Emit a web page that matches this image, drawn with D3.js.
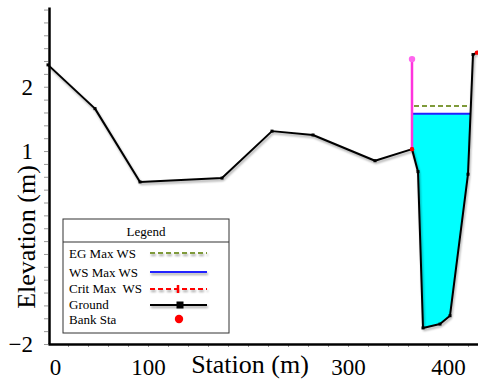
<!DOCTYPE html>
<html>
<head>
<meta charset="utf-8">
<script src="https://cdnjs.cloudflare.com/ajax/libs/d3/7.8.5/d3.min.js"></script>
<style>
  body { margin: 0; background: #fff; }
  text { font-family: "Liberation Serif", "Times New Roman", serif; fill: #000; }
</style>
</head>
<body>
<div id="chart"></div>
<script>
// cross section data (station m, elevation m)
var stations = [0, 47, 92, 174, 224, 265, 327, 364, 370, 375, 392, 402, 420, 425, 429];
var elevations = [2.34, 1.66, 0.52, 0.58, 1.31, 1.25, 0.85, 1.03, 0.68, -1.75, -1.69, -1.56, 0.64, 2.50, 2.53];
var bankStations = [364, 429];
var wsElev = 1.58;       // WS Max WS
var egElev = 1.70;       // EG Max WS
var leveeStation = 364;  // magenta marker at left bank
var leveeTop = 2.43;

var xTickValues = [0, 100, 300, 400];
var yTickValues = [2, 1, -2];
var legendNames = ["EG Max WS", "WS Max WS", "Crit Max  WS", "Ground", "Bank Sta"];

var width = 478, height = 381;

var svg = d3.select("#chart").append("svg")
    .attr("width", width)
    .attr("height", height);

// drop shadow, in user space so flat lines keep a filter region
var defs = svg.append("defs");
var f = defs.append("filter").attr("id", "shadow")
    .attr("filterUnits", "userSpaceOnUse")
    .attr("x", 0).attr("y", 0).attr("width", width).attr("height", height);
f.append("feDropShadow")
    .attr("dx", 1).attr("dy", 2).attr("stdDeviation", 1.2)
    .attr("flood-color", "#000").attr("flood-opacity", 0.35);

var x = d3.scaleLinear().domain([0, 430]).range([48, 478]);
var y = d3.scaleLinear().domain([-2, 3.24]).range([344, 7]);

var ground = stations.map(function (s, i) { return { s: s, z: elevations[i] }; });

// find where ground rises above a level to the right of the left bank
function rightCrossing(level) {
    var i, a, b;
    for (i = 1; i < ground.length; i += 1) {
        a = ground[i - 1]; b = ground[i];
        if (a.s >= leveeStation && a.z <= level && b.z > level) {
            return a.s + (b.s - a.s) * (level - a.z) / (b.z - a.z);
        }
    }
    return ground[ground.length - 1].s;
}

var wsRight = rightCrossing(wsElev);
var egRight = rightCrossing(egElev);

// water polygon
var water = [{ s: leveeStation, z: wsElev }];
ground.forEach(function (d) {
    if (d.s >= leveeStation && d.s < wsRight) { water.push(d); }
});
water.push({ s: wsRight, z: wsElev });

var line = d3.line().x(function (d) { return x(d.s); }).y(function (d) { return y(d.z); });

svg.append("path")
    .datum(water)
    .attr("d", line.curve(d3.curveLinearClosed))
    .attr("fill", "#00ffff")
    .attr("stroke", "none");
line.curve(d3.curveLinear);

// EG and WS lines
svg.append("line")
    .attr("x1", x(leveeStation + 2)).attr("x2", x(egRight))
    .attr("y1", y(egElev)).attr("y2", y(egElev))
    .attr("stroke", "#7f9a3a").attr("stroke-width", 2)
    .attr("stroke-dasharray", "5,3");
svg.append("line")
    .attr("x1", x(leveeStation)).attr("x2", x(wsRight))
    .attr("y1", y(wsElev)).attr("y2", y(wsElev))
    .attr("stroke", "#2020ff").attr("stroke-width", 2);

// magenta marker
svg.append("line")
    .attr("x1", x(leveeStation)).attr("x2", x(leveeStation))
    .attr("y1", y(elevations[stations.indexOf(leveeStation)])).attr("y2", y(leveeTop))
    .attr("stroke", "#ff33dd").attr("stroke-width", 2.5);
svg.append("circle")
    .attr("cx", x(leveeStation)).attr("cy", y(leveeTop)).attr("r", 3.2)
    .attr("fill", "#ff66ee");

// ground
svg.append("path")
    .datum(ground)
    .attr("d", line)
    .attr("fill", "none")
    .attr("stroke", "#000")
    .attr("stroke-width", 2)
    .attr("stroke-linejoin", "round")
    .attr("filter", "url(#shadow)");
svg.selectAll("rect.vtx")
    .data(ground)
    .enter().append("rect")
    .attr("class", "vtx")
    .attr("x", function (d) { return x(d.s) - 1.5; })
    .attr("y", function (d) { return y(d.z) - 1.5; })
    .attr("width", 3).attr("height", 3)
    .attr("fill", "#000");

// bank stations
svg.selectAll("circle.bank")
    .data(bankStations)
    .enter().append("circle")
    .attr("class", "bank")
    .attr("cx", function (s) { return x(s); })
    .attr("cy", function (s) { return y(elevations[stations.indexOf(s)]); })
    .attr("r", 2.2)
    .attr("fill", "#ff0000");

// minor ticks
svg.append("g")
    .attr("transform", "translate(48,0)")
    .call(d3.axisLeft(y).tickValues(d3.range(-2, 3.21, 0.2)).tickSize(4).tickFormat(""))
    .call(function (g) {
        g.select(".domain").remove();
        g.selectAll("line").attr("stroke", "#999");
    });
svg.append("g")
    .attr("transform", "translate(0,344)")
    .call(d3.axisBottom(x).tickValues(d3.range(20, 430, 20)).tickSize(3).tickFormat(""))
    .call(function (g) {
        g.select(".domain").remove();
        g.selectAll("line").attr("stroke", "#999");
    });

// main axes
var yAxis = svg.append("g")
    .attr("transform", "translate(49,0)")
    .call(d3.axisLeft(y).tickValues(yTickValues).tickSize(0).tickPadding(16).tickFormat(d3.format("d")));
yAxis.select(".domain").attr("stroke", "#000").attr("stroke-width", 2.5);
yAxis.selectAll("text").attr("font-size", 23).attr("font-family", "Liberation Serif, serif");

var xAxis = svg.append("g")
    .attr("transform", "translate(0,344)")
    .call(d3.axisBottom(x).tickValues(xTickValues).tickSize(0).tickPadding(15));
xAxis.select(".domain").attr("stroke", "#000").attr("stroke-width", 2.5);
xAxis.selectAll("text")
    .attr("font-size", 23).attr("font-family", "Liberation Serif, serif")
    .attr("dx", function (d) { return d === 0 ? 7 : 0; });

// axis titles
svg.append("text")
    .attr("transform", "translate(35,237) rotate(-90)")
    .attr("text-anchor", "middle")
    .attr("font-size", 26)
    .text("Elevation (m)");
svg.append("text")
    .attr("x", 250).attr("y", 373)
    .attr("text-anchor", "middle")
    .attr("font-size", 26)
    .text("Station (m)");

// legend
var lg = svg.append("g");
lg.append("rect")
    .attr("x", 63).attr("y", 219).attr("width", 166).attr("height", 114)
    .attr("fill", "#fff").attr("stroke", "#333").attr("stroke-width", 1);
lg.append("line")
    .attr("x1", 63).attr("x2", 229).attr("y1", 242).attr("y2", 242)
    .attr("stroke", "#333").attr("stroke-width", 1.2);
lg.append("text")
    .attr("x", 146).attr("y", 236)
    .attr("text-anchor", "middle").attr("font-size", 13)
    .text("Legend");

var rowY = [253, 272, 289, 305, 319];
var baseY = [258, 277, 293, 309, 324];

legendNames.forEach(function (name, i) {
    lg.append("text")
        .attr("x", 69).attr("y", baseY[i])
        .attr("font-size", 13)
        .style("white-space", "pre")
        .text(name);
});

lg.append("line")
    .attr("x1", 150).attr("x2", 207).attr("y1", rowY[0]).attr("y2", rowY[0])
    .attr("stroke", "#7f9a3a").attr("stroke-width", 2).attr("stroke-dasharray", "5,3")
    .attr("filter", "url(#shadow)");
lg.append("line")
    .attr("x1", 150).attr("x2", 207).attr("y1", rowY[1]).attr("y2", rowY[1])
    .attr("stroke", "#2020ff").attr("stroke-width", 2)
    .attr("filter", "url(#shadow)");
lg.append("line")
    .attr("x1", 150).attr("x2", 207).attr("y1", rowY[2]).attr("y2", rowY[2])
    .attr("stroke", "#ff0000").attr("stroke-width", 2).attr("stroke-dasharray", "5,3")
    .attr("filter", "url(#shadow)");
lg.append("line")
    .attr("x1", 178).attr("x2", 178).attr("y1", rowY[2] - 4).attr("y2", rowY[2] + 4)
    .attr("stroke", "#ff0000").attr("stroke-width", 2.5);
lg.append("line")
    .attr("x1", 150).attr("x2", 207).attr("y1", rowY[3]).attr("y2", rowY[3])
    .attr("stroke", "#000").attr("stroke-width", 2)
    .attr("filter", "url(#shadow)");
lg.append("rect")
    .attr("x", 176.5).attr("y", rowY[3] - 3.5).attr("width", 7).attr("height", 7)
    .attr("fill", "#000");
lg.append("circle")
    .attr("cx", 179).attr("cy", rowY[4]).attr("r", 4.2)
    .attr("fill", "#ff0000");
</script>
</body>
</html>
